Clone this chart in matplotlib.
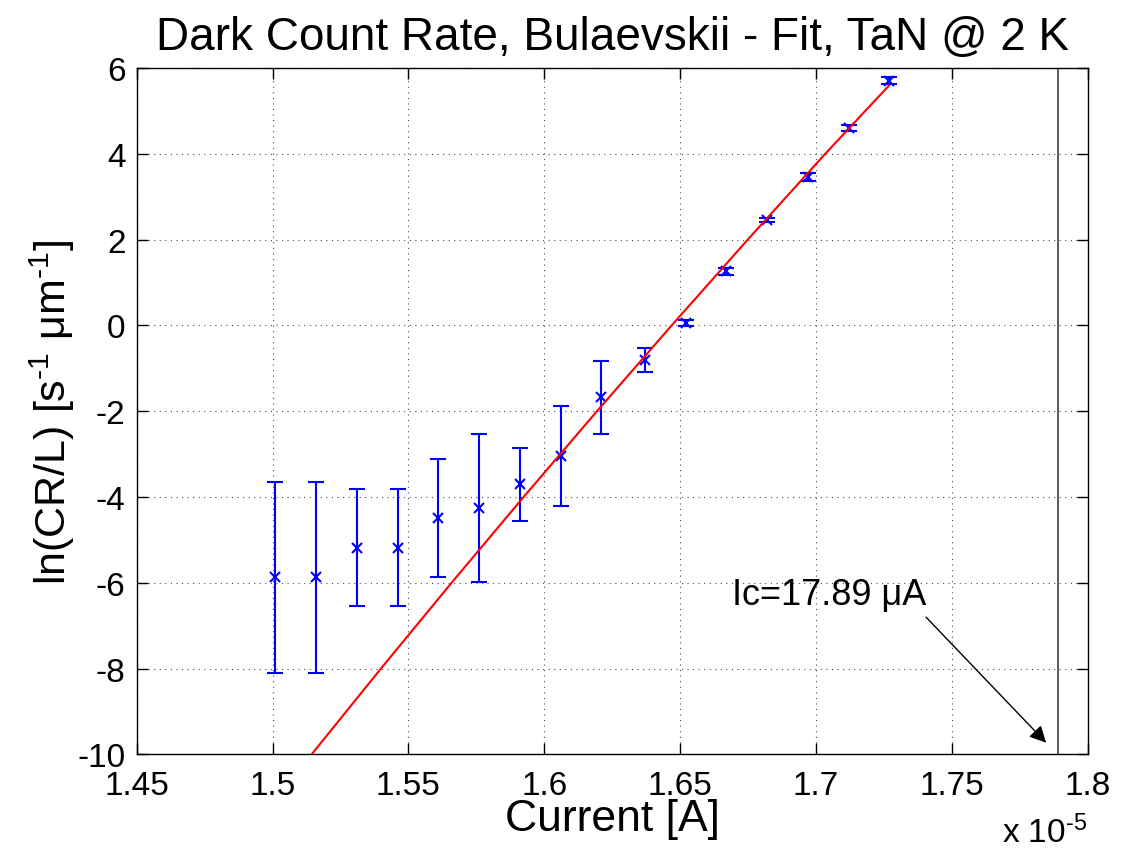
import matplotlib
matplotlib.use("Agg")
import matplotlib.pyplot as plt

plt.rcParams['font.family'] = ['Liberation Sans', 'DejaVu Sans']
plt.rcParams['mathtext.fontset'] = 'custom'
plt.rcParams['mathtext.rm'] = 'Liberation Sans'
plt.rcParams['mathtext.it'] = 'Liberation Sans:italic'
plt.rcParams['axes.unicode_minus'] = False

# current in units of 1e-5 A
current = [1.501, 1.516, 1.531, 1.546, 1.561, 1.576, 1.591, 1.606,
           1.621, 1.637, 1.652, 1.667, 1.682, 1.697, 1.712, 1.727]
ln_rate = [-5.87, -5.87, -5.18, -5.18, -4.49, -4.26, -3.70, -3.04,
           -1.68, -0.81, 0.06, 1.26, 2.45, 3.46, 4.60, 5.70]
ln_err = [2.23, 2.23, 1.37, 1.37, 1.37, 1.73, 0.85, 1.17,
          0.86, 0.28, 0.07, 0.085, 0.05, 0.09, 0.07, 0.08]

# Bulaevskii fit curve
fit_x = [1.5144, 1.5399, 1.5659, 1.5924, 1.6194, 1.6469, 1.6749, 1.7034, 1.727]
fit_y = [-10, -8, -6, -4, -2, 0, 2, 4, 5.6]

ic = 1.789

fig = plt.figure(figsize=(11.23, 8.53), dpi=100)
ax = fig.add_axes([0.1217, 0.1145, 0.8469, 0.8046])

ax.errorbar(current, ln_rate, yerr=ln_err, fmt='x', color='blue',
            ecolor='blue', elinewidth=1.5, capsize=6, capthick=1.5,
            markersize=7, markeredgewidth=1.5, zorder=3)
ax.plot(fit_x, fit_y, color='red', lw=1.5, zorder=4)
ax.axvline(ic, color='0.25', lw=1.2, zorder=2)

ax.annotate(u'Ic=17.89 \u03bcA', xy=(1.7847, -9.73), xytext=(1.7405, -6.68),
            fontsize=26, ha='right', va='bottom',
            arrowprops=dict(arrowstyle='-|>', color='black', lw=1,
                            mutation_scale=25, shrinkA=0, shrinkB=0,
                            relpos=(1.0, -0.15)))

ax.set_xlim(1.45, 1.8)
ax.set_ylim(-10, 6)
ax.set_xticks([1.45, 1.5, 1.55, 1.6, 1.65, 1.7, 1.75, 1.8])
ax.set_xticklabels(['1.45', '1.5', '1.55', '1.6', '1.65', '1.7', '1.75', '1.8'])
ax.set_yticks(range(-10, 7, 2))
ax.grid(True, color='0.3', lw=0.8, linestyle=(0, (1, 4)))
ax.tick_params(direction='in', length=8, width=1, top=True, right=True,
               labelsize=24, pad=8)
ax.tick_params(axis='x', pad=11)
for s in ax.spines.values():
    s.set_linewidth(1)

ax.set_title('Dark Count Rate, Bulaevskii - Fit, TaN @ 2 K', fontsize=33, pad=14)
ax.set_xlabel('Current [A]', fontsize=32, labelpad=-2)
ax.set_ylabel(u'ln(CR/L) [s$^{\u2010 1}$ \u03bcm$^{\u2010 1}$]', fontsize=31, labelpad=0)
fig.text(0.968, 0.003, u'x 10$^{\u20105}$', fontsize=24, ha='right', va='bottom')

fig.savefig('out.png', dpi=100)
